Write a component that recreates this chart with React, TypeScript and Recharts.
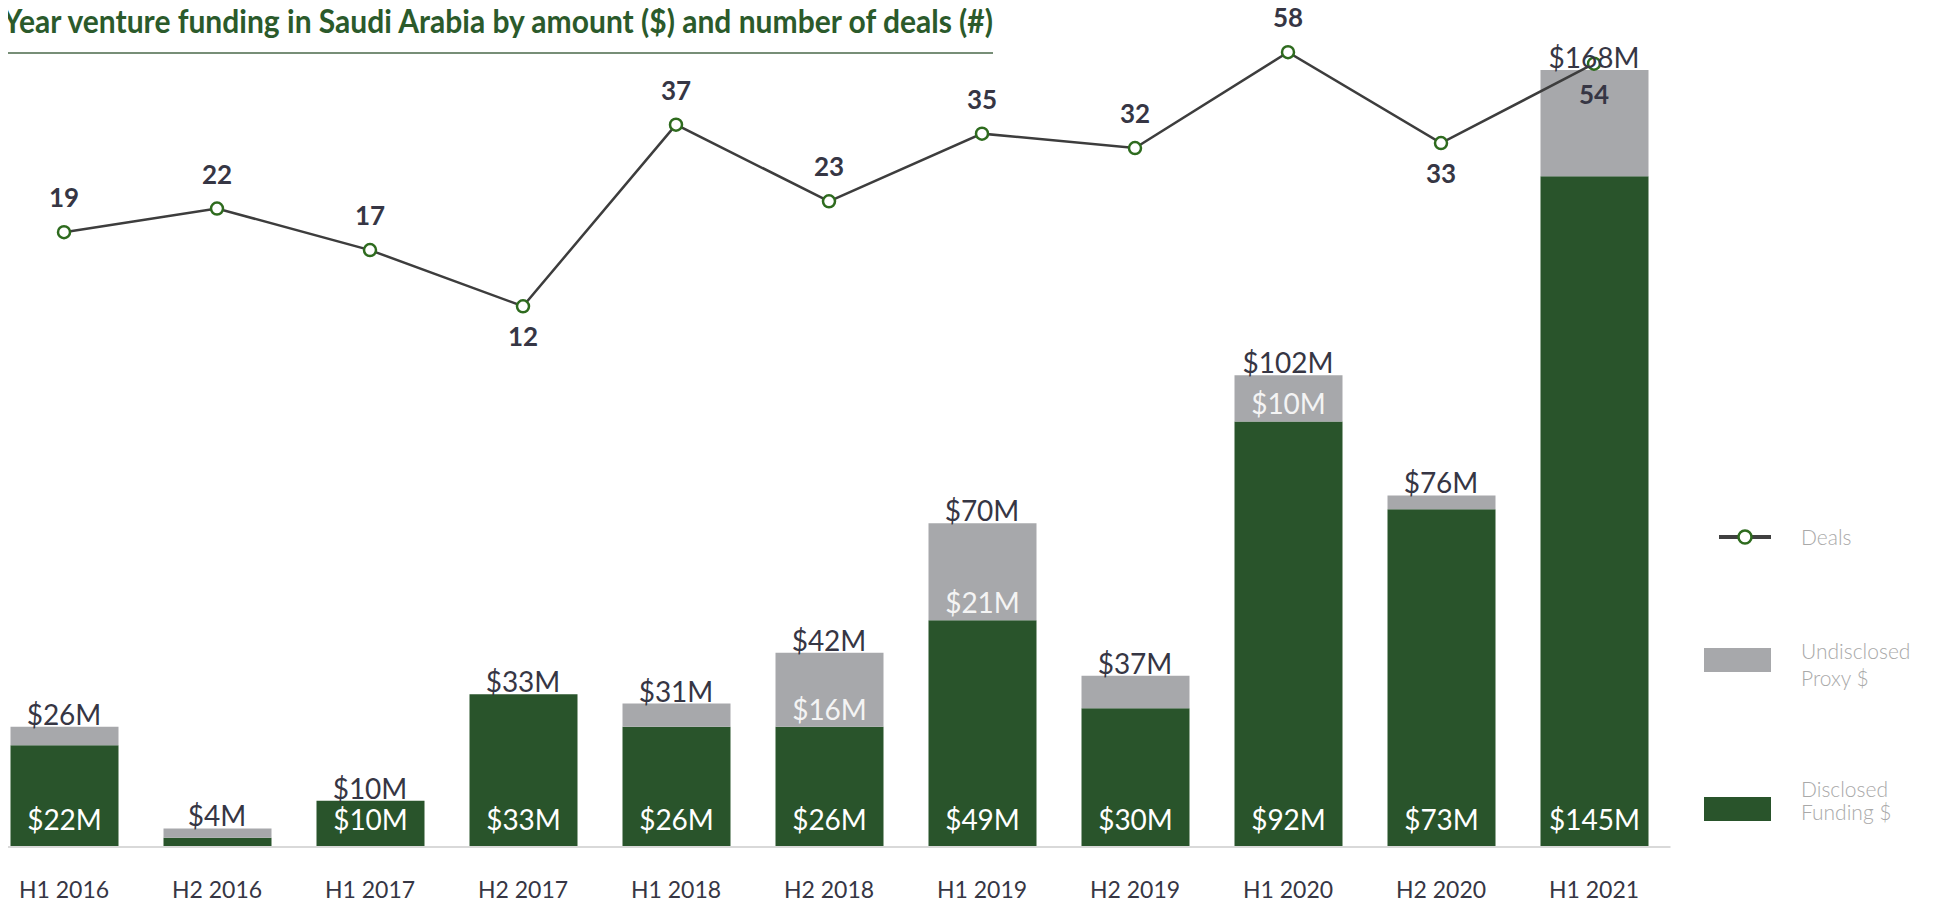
import React from "react";
import {
  Bar,
  ComposedChart,
  LabelList,
  Line,
  XAxis,
  YAxis
} from "recharts";

const periods = [
  "H1 2016", "H2 2016", "H1 2017", "H2 2017", "H1 2018", "H2 2018",
  "H1 2019", "H2 2019", "H1 2020", "H2 2020", "H1 2021"
];
const totalFunding = [26, 4, 10, 33, 31, 42, 70, 37, 102, 76, 168];
const disclosedFunding = [22, 2, 10, 33, 26, 26, 49, 30, 92, 73, 145];
const proxyLabels = ["", "", "", "", "", "$16M", "$21M", "", "$10M", "", ""];
const deals = [19, 22, 17, 12, 37, 23, 35, 32, 58, 33, 54];
const dealLabelsBelow = ["H2 2017", "H2 2020", "H1 2021"];

const data = periods.map((period, i) => ({
  period,
  disclosed: disclosedFunding[i],
  undisclosed: totalFunding[i] - disclosedFunding[i],
  total: totalFunding[i],
  proxyLabel: proxyLabels[i],
  deals: deals[i]
}));

const GREEN = "#29542b";
const GREY = "#a7a8ab";
const INK = "#363644";

const box = (p: any) => {
  const vb = p.viewBox || {};
  return {
    x: p.x ?? vb.x,
    y: p.y ?? vb.y,
    width: p.width ?? vb.width,
    height: p.height ?? vb.height
  };
};

// totals sit on an invisible line, so bars with no proxy part still get one
const renderTotal = (props: any) => {
  const { x, y, value } = props;
  return (
    <text x={x} y={y - 2} textAnchor="middle" fontSize={28} fill={INK}>
      ${value}M
    </text>
  );
};

const renderDisclosed = (props: any) => {
  const { x, y, width, height } = box(props);
  if (height < 30) return null;
  return (
    <text x={x + width / 2} y={y + height - 17} textAnchor="middle" fontSize={28} fill="#ffffff">
      ${props.value}M
    </text>
  );
};

const renderProxy = (props: any) => {
  const { x, y, width, height } = box(props);
  if (!props.value) return null;
  return (
    <text x={x + width / 2} y={y + height - 7} textAnchor="middle" fontSize={28} fill="#f4f4f4">
      {props.value}
    </text>
  );
};

const renderDeal = (props: any) => {
  const { x, y, value, index } = props;
  const below = dealLabelsBelow.includes(periods[index]);
  return (
    <text
      x={x}
      y={below ? y + 40 : y - 25}
      textAnchor="middle"
      fontSize={26}
      fontWeight={700}
      fill={INK}
    >
      {value}
    </text>
  );
};

const renderTick = (props: any) => {
  const { x, y, payload } = props;
  return (
    <text x={x} y={y + 51} textAnchor="middle" fontSize={23} fill={INK}>
      {payload.value}
    </text>
  );
};

export default function App() {
  return (
    <div
      style={{
        position: "relative",
        width: 1935,
        height: 907,
        margin: -8,
        overflow: "hidden",
        background: "#fff",
        fontFamily: "Lato, 'Open Sans', sans-serif"
      }}
    >
      <div style={{ position: "absolute", left: -40, top: 0 }}>
        <ComposedChart
          width={1975}
          height={907}
          data={data}
          margin={{ top: 20, right: 264.5, bottom: 0, left: 27.5 }}
        >
          <XAxis
            dataKey="period"
            height={60}
            interval={0}
            tickLine={false}
            tickSize={0}
            tickMargin={0}
            axisLine={{ stroke: "#d9d9d9", strokeWidth: 2 }}
            tick={renderTick}
          />
          <YAxis yAxisId="amt" hide domain={[0, 178.8]} />
          <YAxis
            yAxisId="deals"
            hide
            orientation="right"
            scale="log"
            domain={[0.42, 70.8]}
          />
          <Bar
            yAxisId="amt"
            dataKey="disclosed"
            stackId="funding"
            fill={GREEN}
            barSize={108}
            isAnimationActive={false}
          >
            <LabelList dataKey="disclosed" content={renderDisclosed} />
          </Bar>
          <Bar
            yAxisId="amt"
            dataKey="undisclosed"
            stackId="funding"
            fill={GREY}
            barSize={108}
            isAnimationActive={false}
          >
            <LabelList dataKey="proxyLabel" content={renderProxy} />
          </Bar>
          <Line
            yAxisId="amt"
            dataKey="total"
            stroke="none"
            dot={false}
            activeDot={false}
            isAnimationActive={false}
          >
            <LabelList dataKey="total" content={renderTotal} />
          </Line>
          <Line
            yAxisId="deals"
            dataKey="deals"
            stroke="#3d3d3d"
            strokeWidth={2.5}
            dot={{ r: 6, stroke: "#2e6b1e", strokeWidth: 2.5, fill: "#ffffff" }}
            isAnimationActive={false}
          >
            <LabelList dataKey="deals" content={renderDeal} />
          </Line>
        </ComposedChart>
      </div>

      <svg
        width={1935}
        height={907}
        style={{ position: "absolute", left: 0, top: 0, pointerEvents: "none" }}
      >
        <text
          x={3}
          y={33}
          fontSize={32}
          fontWeight={700}
          fill="#2b5a2b"
          textLength={990}
          lengthAdjust="spacingAndGlyphs"
        >
          Year venture funding in Saudi Arabia by amount ($) and number of deals (#)
        </text>
        <line x1={0} x2={993} y1={53} y2={53} stroke="#4a684a" strokeWidth={1.5} />

        <line x1={1719} x2={1771} y1={537} y2={537} stroke="#404040" strokeWidth={4} />
        <circle cx={1745} cy={537} r={6.5} fill="#fff" stroke="#2e6b1e" strokeWidth={2.5} />
        <text x={1801} y={545} fontSize={21} fontWeight={300} fill="#a9a9a9">Deals</text>

        <rect x={1704} y={648} width={67} height={24} fill={GREY} />
        <text x={1801} y={659} fontSize={21} fontWeight={300} fill="#a9a9a9">Undisclosed</text>
        <text x={1801} y={686} fontSize={21} fontWeight={300} fill="#a9a9a9">Proxy $</text>

        <rect x={1704} y={797} width={67} height={24} fill={GREEN} />
        <text x={1801} y={797} fontSize={21} fontWeight={300} fill="#a9a9a9">Disclosed</text>
        <text x={1801} y={820} fontSize={21} fontWeight={300} fill="#a9a9a9">Funding $</text>
      </svg>
    </div>
  );
}
